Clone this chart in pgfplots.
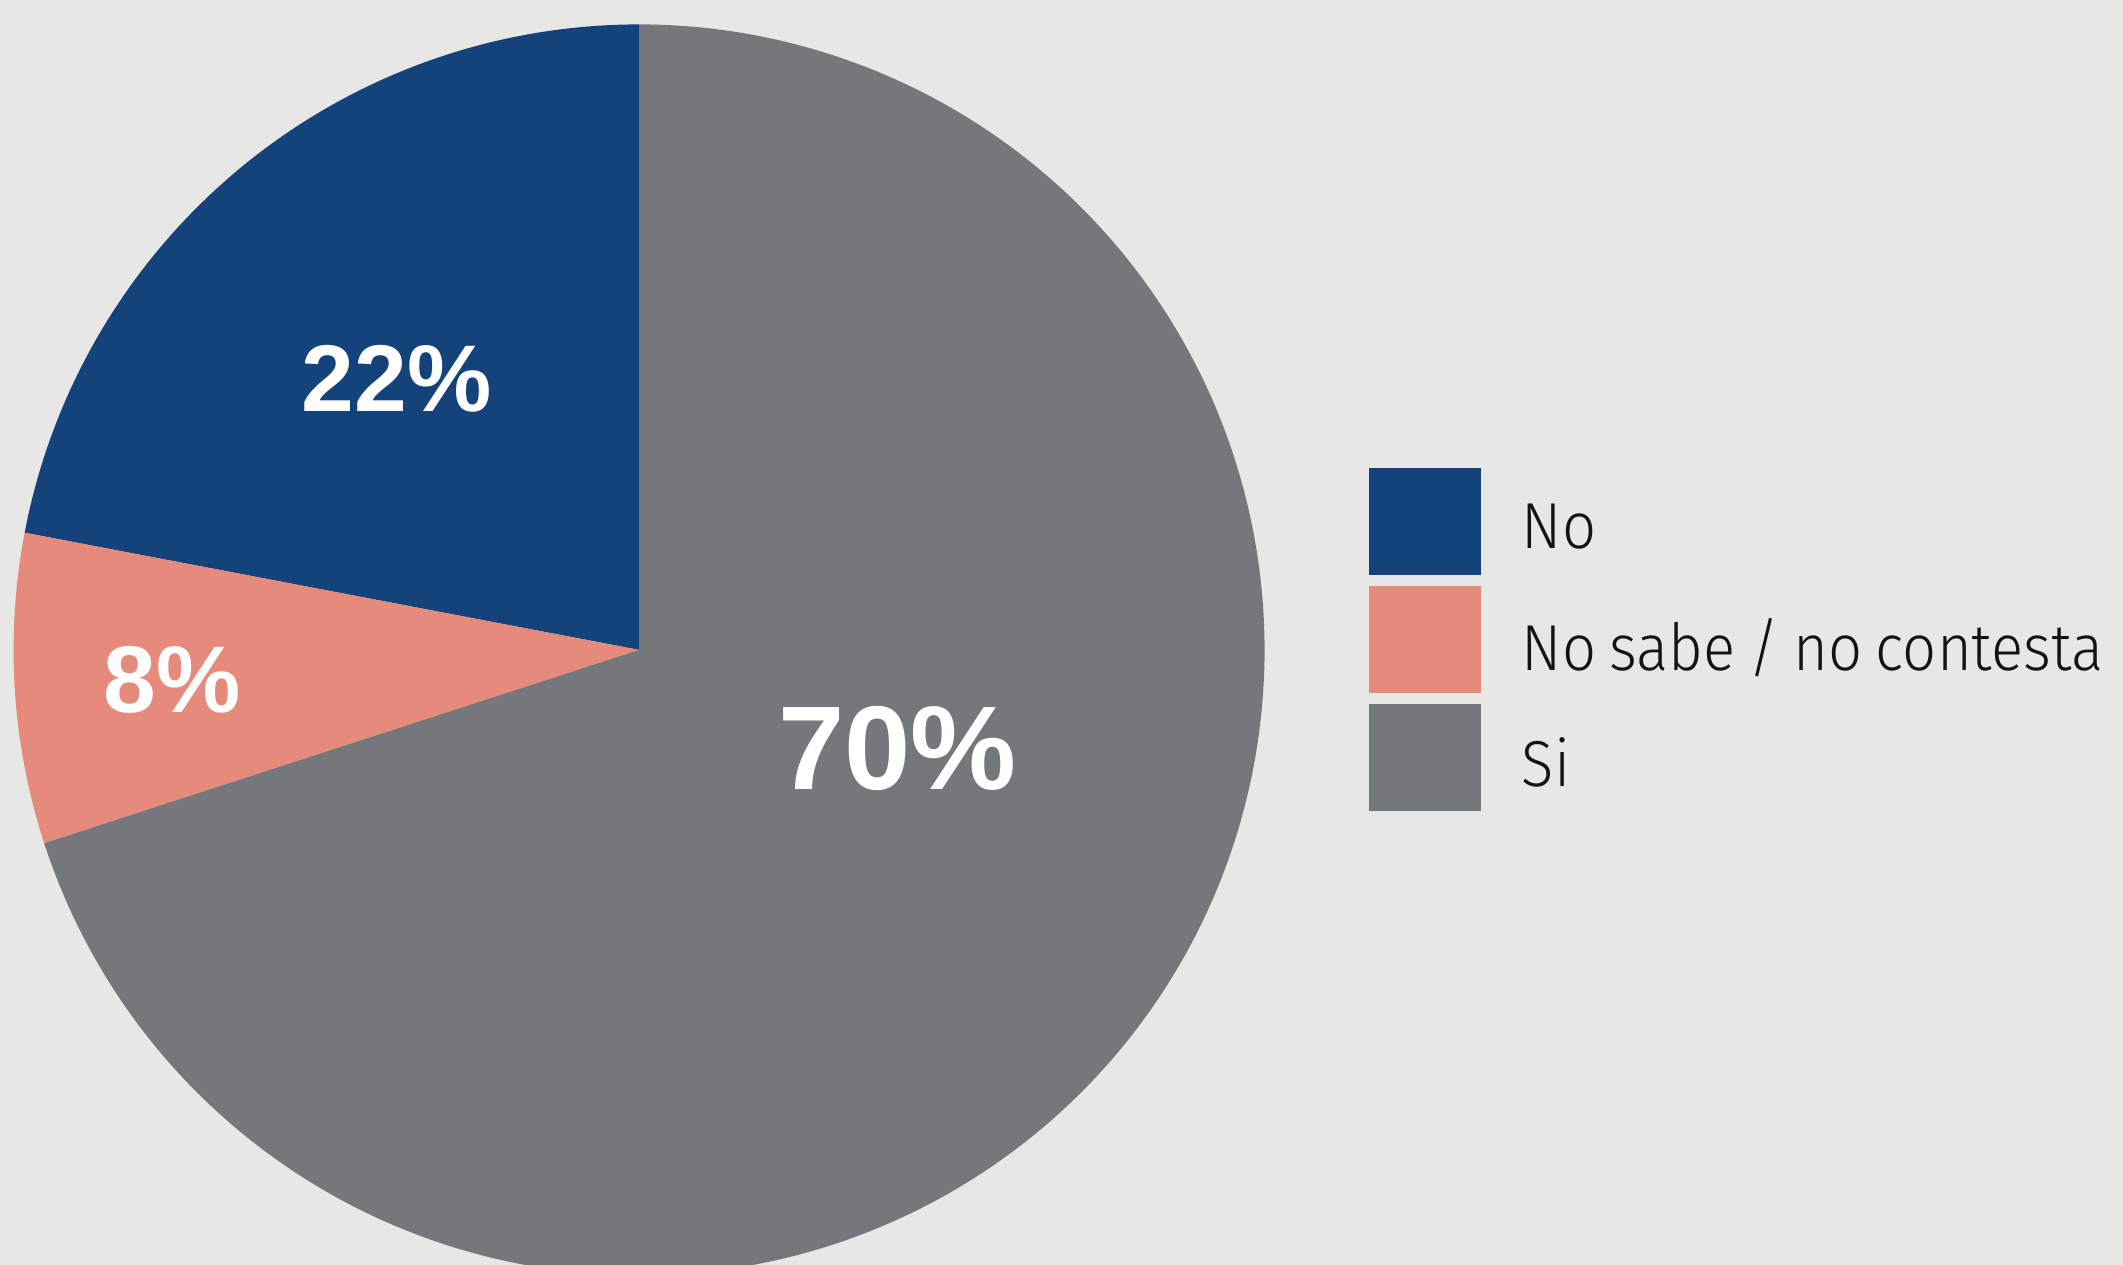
\documentclass[border=0pt]{standalone}
\usepackage{pgfplots}
\pgfplotsset{compat=1.18}
\usepackage{pgfplotstable}
\usepackage{fontspec}
\setmainfont{Fira Sans}
\newfontfamily\lightfont{Fira Sans}[UprightFont={* Light},FakeStretch=0.92,WordSpace=0.8]
\newfontfamily\labfont{Liberation Sans}
\definecolor{cNo}{HTML}{13437A}
\definecolor{cNs}{HTML}{E68A7B}
\definecolor{cSi}{HTML}{75787B}
\definecolor{bg}{HTML}{E7E8E5}
\definecolor{txt}{HTML}{111315}
\pgfplotstableread{
label value
No 22
NS 8
Si 70
}\pietable
\pgfplotstablegetelem{0}{value}\of\pietable \let\vA\pgfplotsretval
\pgfplotstablegetelem{1}{value}\of\pietable \let\vB\pgfplotsretval
\pgfplotstablegetelem{2}{value}\of\pietable \let\vC\pgfplotsretval
\pgfmathsetmacro\aA{90}
\pgfmathsetmacro\aB{90+3.6*\vA}
\pgfmathsetmacro\aC{\aB+3.6*\vB}
\pgfmathsetmacro\aD{\aC+3.6*\vC}
\begin{document}
\begin{tikzpicture}
\path[use as bounding box] (0,0) rectangle (784pt,467pt);
\fill[bg] (0,0) rectangle (784pt,467pt);
\begin{axis}[
  at={(0,0)}, anchor=south west,
  scale only axis, width=784pt, height=467pt,
  xmin=0, xmax=1568, ymin=0, ymax=934,
  hide axis, clip=true,
  legend style={at={(0.6448,0.6296)}, anchor=north west, draw=none, fill=none,
    inner sep=0pt, outer sep=0pt, row sep=4pt,
    font=\lightfont\fontsize{24}{24}\selectfont, text=txt,
    /tikz/every odd column/.append style={column sep=13pt}},
  legend cell align=left,
  legend image code/.code={\fill[#1] (0pt,-17.25pt) rectangle (41.5pt,22.25pt);},
]
\addplot[fill=cNo, draw=none, domain=\aA:\aB, samples=120, variable=\t]
  ({472+462*cos(\t)}, {454+462*sin(\t)}) -- (axis cs:472,454) -- cycle;
\addplot[fill=cNs, draw=none, domain=\aB:\aC, samples=60, variable=\t]
  ({472+462*cos(\t)}, {454+462*sin(\t)}) -- (axis cs:472,454) -- cycle;
\addplot[fill=cSi, draw=none, domain=\aC:\aD, samples=300, variable=\t]
  ({472+462*cos(\t)}, {454+462*sin(\t)}) -- (axis cs:472,454) -- cycle;
\legend{No, No sabe / no contesta, Si}
\node[text=white, font=\labfont\bfseries\fontsize{35}{35}\selectfont] at (axis cs:293,654) {22\%};
\node[text=white, font=\labfont\bfseries\fontsize{35}{35}\selectfont] at (axis cs:127,432) {8\%};
\node[text=white, font=\labfont\bfseries\fontsize{44}{44}\selectfont] at (axis cs:663,381) {70\%};
\end{axis}
\end{tikzpicture}
\end{document}
